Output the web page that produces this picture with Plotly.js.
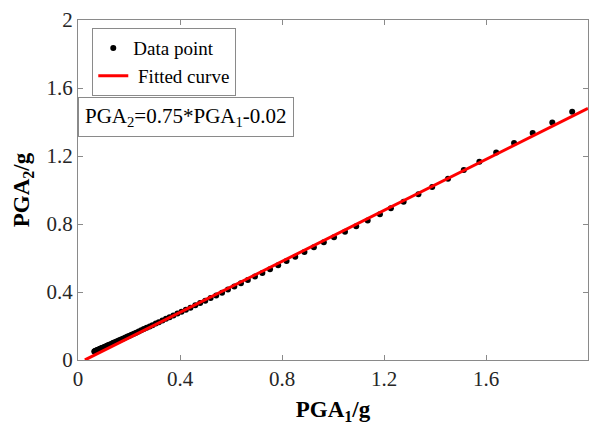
<!DOCTYPE html>
<html>
<head>
<meta charset="utf-8">
<script src="https://cdn.plot.ly/plotly-3.0.1.min.js"></script>
<style>
  html, body { margin: 0; padding: 0; background: #fff; }
  #chart { width: 590px; height: 432px; }
</style>
</head>
<body>
<div id="chart"></div>
<script>
// Peak ground acceleration pairs (g)
const pga1 = [0.064, 0.066, 0.069, 0.072, 0.075, 0.078, 0.082, 0.085, 0.089, 0.092,
  0.096, 0.100, 0.105, 0.109, 0.114, 0.118, 0.123, 0.128, 0.134, 0.139,
  0.145, 0.151, 0.158, 0.164, 0.171, 0.178, 0.186, 0.194, 0.202, 0.210,
  0.219, 0.228, 0.238, 0.248, 0.258, 0.269, 0.281, 0.292, 0.305, 0.317,
  0.331, 0.345, 0.359, 0.374, 0.390, 0.406, 0.423, 0.441, 0.460, 0.479,
  0.499, 0.520, 0.542, 0.565, 0.588, 0.613, 0.639, 0.666, 0.694, 0.723,
  0.753, 0.785, 0.818, 0.852, 0.888, 0.925, 0.964, 1.004, 1.047, 1.091,
  1.136, 1.184, 1.227, 1.277, 1.335, 1.389, 1.451, 1.513, 1.574, 1.640,
  1.710, 1.783, 1.860, 1.938];
const pga2 = [0.050, 0.052, 0.054, 0.056, 0.058, 0.060, 0.062, 0.064, 0.067, 0.069,
  0.072, 0.074, 0.078, 0.080, 0.084, 0.087, 0.090, 0.093, 0.097, 0.101,
  0.105, 0.109, 0.113, 0.118, 0.122, 0.127, 0.133, 0.138, 0.143, 0.149,
  0.155, 0.161, 0.168, 0.175, 0.182, 0.189, 0.197, 0.205, 0.214, 0.222,
  0.232, 0.242, 0.251, 0.262, 0.273, 0.284, 0.296, 0.308, 0.322, 0.335,
  0.349, 0.364, 0.380, 0.396, 0.414, 0.432, 0.451, 0.471, 0.491, 0.512,
  0.534, 0.558, 0.583, 0.608, 0.635, 0.663, 0.692, 0.722, 0.754, 0.787,
  0.821, 0.857, 0.893, 0.931, 0.975, 1.018, 1.066, 1.118, 1.166, 1.220,
  1.277, 1.336, 1.397, 1.461];

// Linear fit: PGA2 = 0.75*PGA1 - 0.02
const fitSlope = 0.75;
const fitIntercept = -0.02;
const fitX = [0.027, 2];
const fitY = fitX.map(x => fitSlope * x + fitIntercept);

const tickVals = [0, 0.4, 0.8, 1.2, 1.6, 2];
const tickText = ['0', '0.4', '0.8', '1.2', '1.6', '2'];
const seriesNames = ['Data point', ' Fitted curve'];

const serif = 'Liberation Serif';
const axisGrey = '#8a8a8a';

// wrap plain labels in a span so they are set in the serif face
const inSerif = t => '<span style="font-family:Liberation Serif">' + t + '</span>';

const traces = [
  {
    x: pga1, y: pga2, type: 'scatter', mode: 'markers', name: inSerif(seriesNames[0]),
    marker: { color: '#000', size: 6 },
    cliponaxis: false
  },
  {
    x: fitX, y: fitY, type: 'scatter', mode: 'lines', name: inSerif(seriesNames[1]),
    line: { color: '#ff0000', width: 3 }
  }
];

function axis(titleText) {
  return {
    range: [0, 2],
    tickvals: tickVals,
    ticktext: tickText.map(inSerif),
    ticks: 'inside',
    ticklen: 5,
    tickwidth: 1,
    tickcolor: axisGrey,
    showline: true,
    linecolor: axisGrey,
    linewidth: 1,
    mirror: 'ticks',
    showgrid: false,
    zeroline: false,
    tickfont: { family: serif, size: 21, color: '#262626' },
    title: { text: titleText, font: { family: serif, size: 23, color: '#000' }, standoff: 10 }
  };
}

const layout = {
  width: 590, height: 432,
  margin: { l: 78, r: 2, t: 20, b: 72 },
  paper_bgcolor: '#fff', plot_bgcolor: '#fff',
  font: { family: serif, size: 20, color: '#000' },
  showlegend: true,
  xaxis: axis('<b>PGA<sub>1</sub>/g</b>'),
  yaxis: axis('<b>PGA<sub>2</sub>/g</b>'),
  legend: {
    x: 0.028, y: 0.976, xanchor: 'left', yanchor: 'top',
    bgcolor: '#fff', bordercolor: axisGrey, borderwidth: 1,
    font: { family: serif, size: 19, color: '#000' },
    itemwidth: 30, tracegroupgap: 0
  },
  annotations: [{
    xref: 'paper', yref: 'paper', x: 0, y: 0.715,
    xanchor: 'left', yanchor: 'middle',
    text: 'PGA<sub>2</sub>=0.75*PGA<sub>1</sub>-0.02',
    showarrow: false,
    font: { family: serif, size: 21, color: '#000' },
    bgcolor: '#fff', bordercolor: axisGrey, borderwidth: 1, borderpad: 6
  }]
};

Plotly.newPlot('chart', traces, layout, { displayModeBar: false, staticPlot: true });
</script>
</body>
</html>
